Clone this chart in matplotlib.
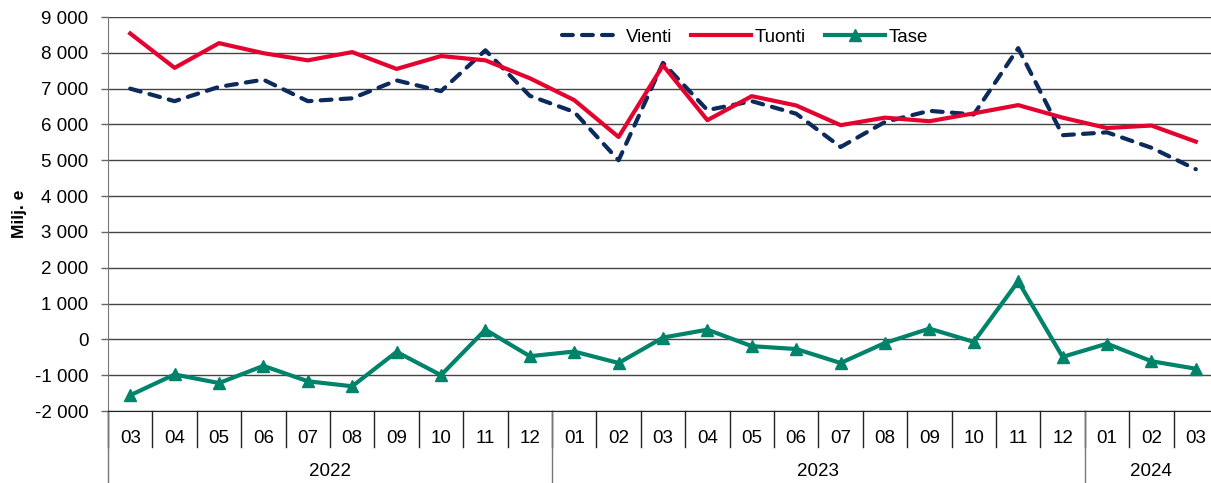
import matplotlib
matplotlib.use("Agg")
import matplotlib.pyplot as plt
import matplotlib.transforms as mtransforms

plt.rcParams['font.family'] = ['Liberation Sans', 'DejaVu Sans']

# ------------------------------------------------------------
# data (Milj. e), 2022-03 .. 2024-03
# ------------------------------------------------------------
months = ["03", "04", "05", "06", "07", "08", "09", "10", "11", "12",
          "01", "02", "03", "04", "05", "06", "07", "08", "09", "10", "11", "12",
          "01", "02", "03"]
years = ["2022", "2023", "2024"]
year_len = [10, 12, 3]

vienti = [7000, 6650, 7050, 7250, 6650, 6730, 7230, 6930, 8070, 6800,
          6350, 5000, 7720, 6400, 6650, 6300, 5370, 6070, 6380, 6280, 8130, 5700,
          5780, 5350, 4750]
tuonti = [8540, 7580, 8270, 7990, 7790, 8020, 7550, 7910, 7790, 7290,
          6680, 5650, 7650, 6120, 6790, 6530, 5980, 6190, 6090, 6310, 6540, 6190,
          5900, 5970, 5520]
tase = [-1560, -980, -1220, -740, -1170, -1310, -350, -1000, 270, -470,
        -340, -660, 50, 270, -190, -270, -660, -100, 300, -70, 1620, -490,
        -120, -610, -820]

C_VIENTI = "#0c2a5c"
C_TUONTI = "#e4032e"
C_TASE = "#00836b"
FS = 13.5

W, H = 1211, 483
fig = plt.figure(figsize=(W / 100, H / 100), dpi=100)
ax = fig.add_axes([108 / W, (H - 411) / H, (1218 - 108) / W, (411 - 17) / H])

x = list(range(len(months)))
ax.plot(x, vienti, color=C_VIENTI, lw=3, dashes=(2.6, 2.2), dash_capstyle="round",
        label="Vienti", zorder=3)
ax.plot(x, tuonti, color=C_TUONTI, lw=3, label="Tuonti", zorder=3)
ax.plot(x, tase, color=C_TASE, lw=3, marker="^", ms=9, label="Tase", zorder=3)

ax.set_xlim(-0.5, len(months) - 0.5)
ax.set_ylim(-2000, 9000)
ax.set_yticks(range(-2000, 9001, 1000))
ax.set_yticklabels([f"{v:,}".replace(",", " ") for v in range(-2000, 9001, 1000)])
ax.yaxis.grid(True, color="#444444", lw=1)
ax.set_axisbelow(True)
ax.tick_params(axis="y", direction="out", length=5, width=1, color="#666666",
               labelsize=FS, pad=9)
ax.tick_params(axis="x", length=0, labelsize=FS, pad=14)
ax.set_xticks(x)
ax.set_xticklabels(months)

for s in ["top", "right"]:
    ax.spines[s].set_visible(False)
ax.spines["left"].set_color("#777777")
ax.spines["bottom"].set_color("#222222")

ax.set_ylabel("Milj. e", fontweight="bold", fontsize=12.5, labelpad=6)

# category separators below the axis
trans = mtransforms.blended_transform_factory(ax.transData, ax.transAxes)
month_h = 36 / (411 - 17)
full_h = 72 / (411 - 17)
for i in range(len(months) + 1):
    ax.plot([i - 0.5, i - 0.5], [0, -month_h], color="#222222", lw=1,
            transform=trans, clip_on=False)
start = 0
for yr, n in zip(years, year_len):
    ax.plot([start - 0.5, start - 0.5], [0, -full_h], color="#777777", lw=1,
            transform=trans, clip_on=False)
    ax.text(start + n / 2 - 0.5, -(472 - 411) / (411 - 17), yr, transform=trans,
            ha="center", va="center", fontsize=FS)
    start += n

leg = ax.legend(loc="center", bbox_to_anchor=(745 / W, (H - 37) / H),
                bbox_transform=fig.transFigure, ncol=3, frameon=False,
                fontsize=FS, handlelength=3.2, columnspacing=1.0,
                handletextpad=0.2)

fig.savefig("out.png", dpi=100)
